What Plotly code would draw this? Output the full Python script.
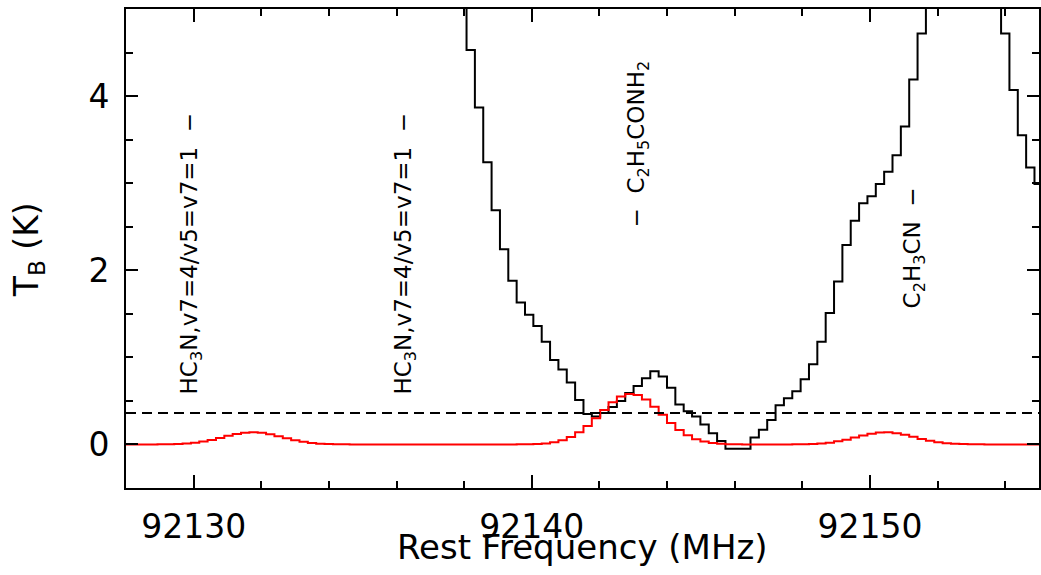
import plotly.graph_objects as go

# Channel centre frequencies (MHz)
freq = [
    92127.820, 92128.067, 92128.314, 92128.561, 92128.808, 92129.055, 92129.302, 92129.549,
    92129.796, 92130.043, 92130.290, 92130.537, 92130.784, 92131.031, 92131.278, 92131.525,
    92131.772, 92132.019, 92132.266, 92132.513, 92132.760, 92133.007, 92133.254, 92133.501,
    92133.748, 92133.995, 92134.242, 92134.489, 92134.736, 92134.983, 92135.230, 92135.477,
    92135.724, 92135.971, 92136.218, 92136.465, 92136.712, 92136.959, 92137.206, 92137.453,
    92137.700, 92137.947, 92138.194, 92138.441, 92138.688, 92138.935, 92139.182, 92139.429,
    92139.676, 92139.923, 92140.170, 92140.417, 92140.664, 92140.911, 92141.158, 92141.405,
    92141.652, 92141.899, 92142.146, 92142.393, 92142.640, 92142.887, 92143.134, 92143.381,
    92143.628, 92143.875, 92144.122, 92144.369, 92144.616, 92144.863, 92145.110, 92145.357,
    92145.604, 92145.851, 92146.098, 92146.345, 92146.592, 92146.839, 92147.086, 92147.333,
    92147.580, 92147.827, 92148.074, 92148.321, 92148.568, 92148.815, 92149.062, 92149.309,
    92149.556, 92149.803, 92150.050, 92150.297, 92150.544, 92150.791, 92151.038, 92151.285,
    92151.532, 92151.779, 92152.026, 92152.273, 92152.520, 92152.767, 92153.014, 92153.261,
    92153.508, 92153.755, 92154.002, 92154.249, 92154.496, 92154.743, 92154.990, 92155.237,
]

# Observed brightness temperature (K); None = far above the plotted range on the left
observed = [None] * 41 + [
    5.6, 4.53, 3.87, 3.24, 2.69, 2.24, 1.88, 1.63, 1.49, 1.36,
    1.18, 0.97, 0.86, 0.71, 0.51, 0.35, 0.32, 0.36, 0.43, 0.50,
    0.59, 0.67, 0.76, 0.84, 0.78, 0.65, 0.46, 0.38, 0.32, 0.23,
    0.13, 0.04, -0.05, -0.05, -0.05, 0.08, 0.17, 0.28, 0.45, 0.53,
    0.61, 0.75, 0.92, 1.18, 1.51, 1.87, 2.29, 2.57, 2.77, 2.85,
    2.99, 3.13, 3.32, 3.65, 4.19, 4.72, 5.3, 5.8, 6.2, 6.4,
    6.5, 6.4, 6.2, 5.8, 5.3, 4.72, 4.07, 3.55, 3.18, 2.99,
    2.9,
]

# Model spectrum (K)
model = [
    0, 0, 0, 0, 0,
    0.001, 0.002, 0.005, 0.011, 0.019,
    0.033, 0.052, 0.074, 0.099, 0.121,
    0.135, 0.140, 0.133, 0.116, 0.094,
    0.070, 0.047, 0.030, 0.017, 0.009,
    0.004, 0.002, 0.001, 0, 0,
    0, 0, 0, 0, 0,
    0, 0, 0, 0, 0,
    0, 0, 0, 0, 0,
    0, 0, 0, 0.001, 0.002,
    0.006, 0.012, 0.025, 0.048, 0.085,
    0.139, 0.213, 0.301, 0.397, 0.484,
    0.550, 0.579, 0.567, 0.515, 0.434,
    0.340, 0.247, 0.167, 0.105, 0.061,
    0.033, 0.017, 0.008, 0.003, 0.001,
    0, 0, 0, 0, 0,
    0, 0.001, 0.003, 0.006, 0.011,
    0.021, 0.036, 0.055, 0.079, 0.103,
    0.124, 0.137, 0.139, 0.130, 0.112,
    0.088, 0.064, 0.043, 0.026, 0.015,
    0.008, 0.004, 0.002, 0.001, 0,
    0, 0, 0, 0, 0,
    0, 0,
]

threshold = 0.36  # dashed level (K)

line_labels = [
    "HC<sub>3</sub>N,v7=4/v5=v7=1\u00a0\u00a0\u2212",
    "HC<sub>3</sub>N,v7=4/v5=v7=1\u00a0\u00a0\u2212",
    "\u2212\u00a0\u00a0C<sub>2</sub>H<sub>5</sub>CONH<sub>2</sub>",
    "C<sub>2</sub>H<sub>3</sub>CN\u00a0\u00a0\u2212",
]
line_freqs = [92129.92, 92136.25, 92143.13, 92151.29]

x_range = [92128, 92155]
y_range = [-0.5, 5]

FONT = "DejaVu Sans"

fig = go.Figure()
fig.add_trace(go.Scatter(x=freq, y=observed, mode="lines", line=dict(shape="hvh", color="black", width=2),
                         connectgaps=False, showlegend=False))
# model drawn on the overlaid (identical-range) axes that carry the top/right ticks
fig.add_trace(go.Scatter(x=freq, y=model, mode="lines", line=dict(shape="hvh", color="#ff0000", width=2),
                         xaxis="x2", yaxis="y2", showlegend=False))
fig.add_hline(y=threshold, line=dict(color="black", width=2, dash="10px,6px"))

label_bottoms = [0.55, 0.55, 2.47, 1.54]
for txt, f, yb in zip(line_labels, line_freqs, label_bottoms):
    fig.add_annotation(x=f, y=yb, xref="x", yref="y", text=txt, textangle=-90, showarrow=False,
                       xanchor="center", yanchor="bottom", font=dict(family=FONT, size=23, color="black"))

# axis titles
fig.add_annotation(x=0.5, y=-0.1232, xref="paper", yref="paper", text="Rest Frequency (MHz)",
                   showarrow=False, xanchor="center", yanchor="middle",
                   font=dict(family=FONT, size=34, color="black"))
fig.add_annotation(x=-0.1060, y=0.497, xref="paper", yref="paper", text="T<sub>B</sub> (K)",
                   textangle=-90, showarrow=False, xanchor="center", yanchor="middle",
                   font=dict(family=FONT, size=33, color="black"))

tick_style = dict(showline=True, linecolor="black", linewidth=2, mirror=False,
                  ticks="inside", tickwidth=2, tickcolor="black",
                  showgrid=False, zeroline=False)
x_ticks = dict(range=x_range, dtick=10, tick0=92130, ticklen=13,
               minor=dict(dtick=2, ticklen=7, tickwidth=2, tickcolor="black", ticks="inside"))
y_ticks = dict(range=y_range, dtick=2, tick0=0, ticklen=12,
               minor=dict(dtick=0.5, ticklen=7, tickwidth=2, tickcolor="black", ticks="inside"))

fig.update_layout(
    template="none",
    width=1041, height=575, margin=dict(l=126, r=2, t=9, b=87),
    paper_bgcolor="white", plot_bgcolor="white", showlegend=False,
    xaxis=dict(**x_ticks, **tick_style, tickformat="d", ticklabelstandoff=8,
               tickfont=dict(family=FONT, size=33, color="black")),
    yaxis=dict(**y_ticks, **tick_style, ticklabelstandoff=8,
               tickfont=dict(family=FONT, size=33, color="black")),
    xaxis2=dict(**x_ticks, **tick_style, overlaying="x", side="top", showticklabels=False),
    yaxis2=dict(**y_ticks, **tick_style, overlaying="y", side="right", showticklabels=False),
)

fig.write_html("out.html", config={"displayModeBar": False},
               post_script="document.body.style.margin='0';document.body.style.overflow='hidden';")
